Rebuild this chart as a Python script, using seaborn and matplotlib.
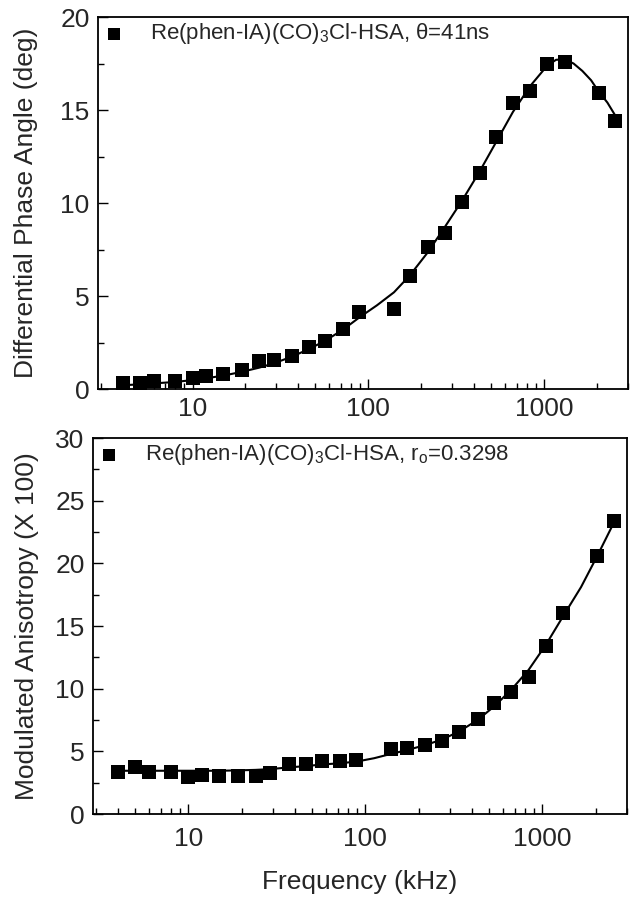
import numpy as np
import pandas as pd
import matplotlib
matplotlib.use("Agg")
import matplotlib.pyplot as plt
from matplotlib.ticker import LogLocator, MultipleLocator, FixedLocator, FixedFormatter
import seaborn as sns

# frequencies (kHz), shared by both panels
freq = [4, 5, 6, 8, 10, 12, 15, 19, 24, 29, 37, 46, 57, 72, 89,
        140, 172, 218, 272, 340, 430, 535, 665, 835, 1045, 1310, 2040, 2540]

# differential phase angle (deg)
phase = [0.32, 0.3, 0.43, 0.43, 0.6, 0.72, 0.8, 1.0, 1.5, 1.55, 1.8, 2.27, 2.6, 3.2, 4.15,
         4.3, 6.1, 7.65, 8.4, 10.07, 11.6, 13.55, 15.4, 16.0, 17.47, 17.6, 15.9, 14.4]

# modulated anisotropy (x100)
aniso = [3.35, 3.75, 3.35, 3.35, 2.95, 3.1, 3.0, 3.0, 3.0, 3.3, 4.0, 4.0, 4.25, 4.25, 4.3,
         5.2, 5.3, 5.5, 5.85, 6.55, 7.55, 8.85, 9.75, 10.9, 13.4, 16.05, 20.6, 23.4]

# fit curves
phase_fit_freq = [4, 5, 6, 8, 10, 12, 15, 19, 24, 29, 37, 46, 57, 72, 89, 112,
                  140, 172, 218, 272, 340, 430, 535, 665, 835, 1045, 1170, 1310,
                  1470, 1650, 1850, 2040, 2290, 2540]
phase_fit = [0.2, 0.25, 0.3, 0.38, 0.48, 0.58, 0.72, 0.92, 1.15, 1.38, 1.75, 2.15, 2.6, 3.2,
             3.85, 4.5, 5.2, 6.1, 7.35, 8.7, 10.1, 11.7, 13.3, 14.9, 16.3, 17.4, 17.7, 17.72,
             17.5, 17.1, 16.6, 16.0, 15.4, 14.7]

aniso_fit_freq = [4, 5, 6, 8, 10, 12, 15, 19, 24, 29, 37, 46, 57, 72, 89, 112,
                  140, 172, 218, 272, 340, 430, 535, 665, 835, 1045, 1310, 1650, 2040, 2540]
aniso_fit = [3.45, 3.45, 3.45, 3.45, 3.45, 3.45, 3.45, 3.48, 3.52, 3.58, 3.72, 3.82, 3.95,
             4.05, 4.18, 4.45, 4.8, 5.1, 5.5, 5.95, 6.6, 7.5, 8.6, 9.9, 11.5, 13.5, 15.8,
             18.1, 20.6, 23.3]

top_label = r"Re(phen-IA)(CO)$_{\mathrm{3}}$Cl-HSA, θ=41ns"
bot_label = r"Re(phen-IA)(CO)$_{\mathrm{3}}$Cl-HSA, r$_{\mathrm{o}}$=0.3298"

sns.set_theme(style="ticks")
plt.rcParams["font.family"] = ["Liberation Sans", "DejaVu Sans"]
plt.rcParams["mathtext.fontset"] = "custom"
plt.rcParams["mathtext.rm"] = "Liberation Sans"
plt.rcParams["mathtext.it"] = "Liberation Sans:italic"

df = pd.DataFrame({"freq": freq, "phase": phase, "aniso": aniso})
fit_top = pd.DataFrame({"freq": phase_fit_freq, "phase": phase_fit})
fit_bot = pd.DataFrame({"freq": aniso_fit_freq, "aniso": aniso_fit})

fig = plt.figure(figsize=(6.38, 9.0), dpi=100)
ax1 = fig.add_axes([98 / 638, 1 - 389 / 900, 530 / 638, 372 / 900])
ax2 = fig.add_axes([93 / 638, 1 - 814 / 900, 534 / 638, 376 / 900])


def style(ax, ymax, ylabel, lpad):
    ax.set_xscale("log")
    ax.set_xlim(2.9, 3000)
    ax.set_ylim(0, ymax)
    ax.xaxis.set_major_locator(FixedLocator([10, 100, 1000]))
    ax.xaxis.set_major_formatter(FixedFormatter(["10", "100", "1000"]))
    ax.xaxis.set_minor_locator(LogLocator(base=10, subs=np.arange(2, 10)))
    ax.yaxis.set_major_locator(MultipleLocator(5))
    ax.yaxis.set_minor_locator(MultipleLocator(2.5))
    ax.tick_params(which="both", direction="in", top=False, right=False,
                   labelsize=19, color="black", width=1.0)
    ax.tick_params(which="major", length=7, pad=6)
    ax.tick_params(which="minor", length=4)
    for s in ax.spines.values():
        s.set_visible(True)
        s.set_color("black")
        s.set_linewidth(1.3)
    ax.set_ylabel(ylabel, fontsize=19, labelpad=lpad)
    ax.set_xlabel("")


sns.lineplot(data=fit_top, x="freq", y="phase", ax=ax1, color="black", lw=1.5, legend=False)
sns.scatterplot(data=df, x="freq", y="phase", ax=ax1, marker="s", s=110, color="black",
                edgecolor="black", linewidth=0, label=top_label, zorder=3)
style(ax1, 20, "Differential Phase Angle (deg)", 16)

sns.lineplot(data=fit_bot, x="freq", y="aniso", ax=ax2, color="black", lw=1.5, legend=False)
sns.scatterplot(data=df, x="freq", y="aniso", ax=ax2, marker="s", s=110, color="black",
                edgecolor="black", linewidth=0, label=bot_label, zorder=3)
style(ax2, 30, "Modulated Anisotropy (X 100)", 12)
ax2.tick_params(axis="x", which="major", pad=9)
ax2.set_xlabel("Frequency (kHz)", fontsize=19, labelpad=14)

for ax in (ax1, ax2):
    ax.legend(loc="upper left", frameon=False, fontsize=16, handlelength=1.0,
              handletextpad=1.15, borderpad=0.2, borderaxespad=0.0, markerscale=0.85)

fig.savefig("out.png", dpi=100)
